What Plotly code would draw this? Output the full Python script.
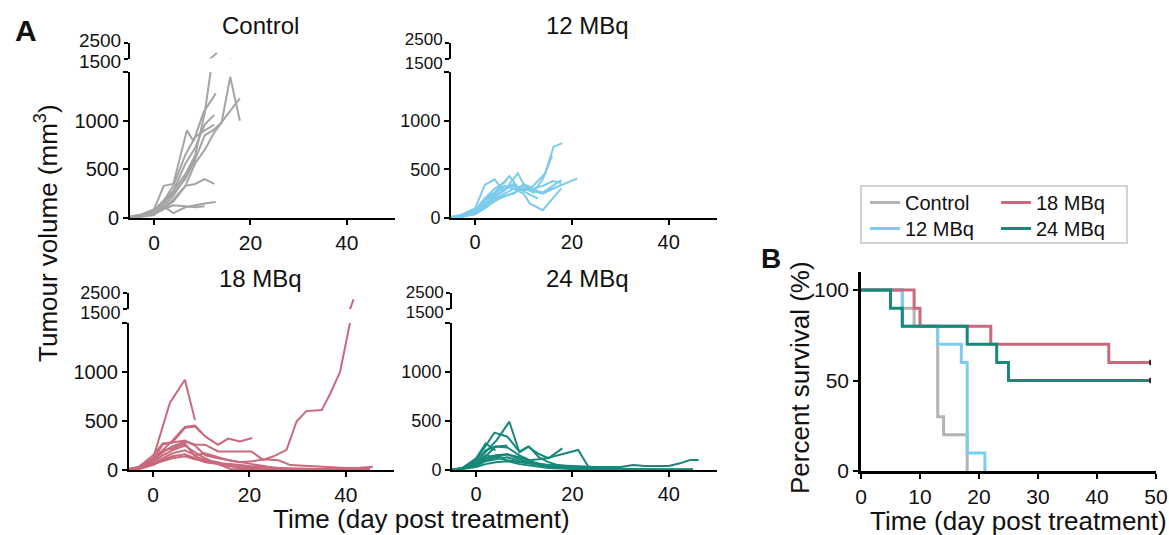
import plotly.graph_objects as go

W, H = 1169, 535
FONT = "Liberation Sans, Arial, sans-serif"

# ---------------- DATA ----------------
# Tumour volume (mm^3) per mouse: days post treatment and volumes
ctrl_days = [
    [-5, -3, 0, 2, 4, 6.5, 8.5, 10.5, 11.75, 13],
    [-5, -3, 0, 2, 4, 6.8, 8.2, 10.3, 12.8],
    [-5, -3, 0, 2, 4, 6.5, 8.5, 10.5, 12.2, 14, 15.8, 17.8],
    [-5, -3, 0, 2, 4, 6.5, 8.5, 10.5, 12.5, 15, 17.8],
    [-5, -3, 0, 2, 4, 6.5, 8.5, 10.5, 12.5],
    [-5, -3, 0, 2, 4, 6.5, 8.5, 10.5, 12.5],
    [-5, -3, 0, 2, 4, 6.5, 8.5, 10.5, 12.5],
    [-5, -3, 0, 2, 4, 6.5, 8.5, 10.5, 12.8],
    [-5, -3, 0, 2, 4, 6.5, 8.5],
    [-5, -3, 0, 2, 4, 6.5, 8.5, 10.5],
]
ctrl_vols = [
    [10, 20, 60, 150, 280, 450, 640, 1075, 1510, 1850],
    [15, 30, 90, 330, 350, 900, 790, 1090, 1280],
    [10, 15, 50, 120, 230, 420, 600, 850, 900, 980, 1450, 1000],
    [10, 20, 40, 100, 170, 330, 560, 700, 880, 1050, 1230],
    [15, 30, 80, 180, 330, 650, 830, 900, 960],
    [10, 25, 70, 170, 280, 560, 720, 960, 1060],
    [10, 20, 50, 100, 190, 330, 350, 400, 350],
    [5, 10, 30, 120, 50, 110, 130, 150, 165],
    [10, 20, 60, 150, 250, 400, 600],
    [10, 20, 40, 90, 130, 120, 110, 120],
]

mbq12_days = [
    [-5, -3, 0, 2, 4, 6, 8, 10, 12, 14.5, 16.2, 18],
    [-5, -3, 0, 2, 4, 6, 8, 10, 12, 14, 15.9],
    [-5, -3, 0, 2, 4, 6, 8, 10, 12, 14, 16, 17.8, 21.1],
    [-5, -3, 0, 2, 4, 6, 8, 10, 11.3, 14, 16, 17.8],
    [-5, -3, 0, 2, 4, 5.7, 8, 10, 12, 14, 16, 17.8],
    [-5, -3, 0, 2, 4, 6, 8.8, 10, 12, 14, 16, 17.8],
    [-5, -3, 0, 2, 4, 7.1, 9, 11, 13],
    [-5, -3, 0, 2, 4, 6.5],
    [-5, -3, 0, 2, 4, 6.5],
    [-5, -3, 0, 2, 4, 6, 8, 10, 12, 14, 16, 17.8],
]
mbq12_vols = [
    [10, 20, 60, 150, 220, 300, 350, 280, 330, 460, 730, 770],
    [5, 15, 50, 120, 200, 250, 300, 330, 260, 400, 640],
    [5, 10, 40, 100, 180, 220, 260, 300, 280, 250, 300, 340, 407],
    [10, 20, 70, 180, 250, 330, 300, 250, 150, 80, 200, 305],
    [10, 30, 100, 340, 397, 290, 330, 300, 270, 260, 330, 390],
    [5, 15, 50, 150, 230, 280, 459, 350, 300, 330, 380, 360],
    [10, 20, 60, 200, 260, 431, 300, 250, 200],
    [5, 10, 40, 120, 220, 300],
    [10, 20, 80, 200, 300, 380],
    [8, 15, 40, 100, 170, 230, 250, 350, 290, 260, 300, 340],
]

mbq18_days = [
    [-5, -3, 0, 3.5, 6.6, 8.7],
    [-5, -3, 0, 2, 4, 6.6, 8.7, 10.8, 13.5, 15.6, 18, 20.6],
    [-5, -3, 0, 2, 4, 6.6, 8.7, 10.8, 13.5, 17, 20.4, 22.8, 25, 27.7, 29.8, 31.8, 35, 36.7, 38.8, 40.9, 41.6],
    [-5, -3, 0, 2, 4, 6.6, 8.7, 10],
    [-5, -3, 0, 2, 4, 6.6, 8.7, 10.8, 13.5, 15.6, 18, 20.6, 23, 25, 28, 31, 35, 40, 45.6],
    [-5, -3, 0, 2, 4, 6.6, 8.7, 10.8, 13.5, 16, 20, 25, 30, 35, 40, 45],
    [-5, -3, 0, 2, 4, 6.6, 8.7, 10.8, 13.5, 15.6, 18, 20.6, 23, 26, 28.5, 32, 36, 40, 45],
    [-5, -3, 0, 2, 4, 6.6, 8.7, 10.8, 13.5, 16, 18, 22, 26, 30, 35, 40, 45],
    [-5, -3, 0, 2, 4, 6.6, 8.7, 10.8, 13.5, 16, 20, 25, 30, 35, 40, 45],
    [-5, -3, 0, 2, 4, 6.6, 8.7, 10.8, 13.5, 16, 20, 24, 28, 32, 36, 40, 45],
]
mbq18_vols = [
    [10, 30, 120, 687, 921, 509],
    [10, 20, 80, 200, 300, 440, 454, 343, 258, 320, 292, 326],
    [10, 20, 100, 180, 240, 290, 260, 258, 189, 189, 190, 103, 140, 206, 498, 601, 611, 773, 1000, 1510, 2106],
    [10, 30, 150, 270, 280, 430, 445, 380],
    [10, 20, 100, 260, 280, 300, 250, 150, 120, 100, 80, 60, 40, 20, 10, 5, 5, 10, 34],
    [5, 15, 80, 150, 200, 250, 180, 120, 60, 10, 5, 5, 5, 5, 5, 5],
    [5, 10, 60, 120, 170, 200, 150, 170, 130, 100, 80, 90, 110, 100, 50, 40, 30, 20, 20],
    [5, 10, 50, 100, 140, 160, 120, 80, 60, 40, 20, 10, 5, 5, 5, 5, 5],
    [10, 20, 120, 200, 220, 270, 140, 100, 80, 40, 30, 20, 15, 10, 5, 5],
    [5, 15, 60, 90, 120, 140, 110, 90, 70, 60, 40, 30, 10, 10, 5, 5, 5],
]

mbq24_days = [
    [-5, -3, 0, 2, 4.2, 6.9, 9, 11, 13, 15, 17, 20, 23, 26, 30, 35, 40, 45],
    [-5, -3, 0, 2, 3.8, 6.5, 9, 10.75, 12.8, 15, 17.9],
    [-5, -3, 0, 2, 4, 6.5, 9, 11, 13, 14.6, 17, 21.2, 23.3],
    [-5, -3, 0, 2, 4, 6.5, 9, 12, 15, 20, 25, 30, 32.6, 35, 40, 42.3, 44.4, 46.2],
    [-5, -3, 0, 2, 4],
    [-5, -3, 0, 2, 4, 6.5],
    [-5, -3, 0, 2, 4, 6.5, 9, 12, 15, 18, 22, 25],
    [-5, -3, 0, 2, 4, 6.5, 9, 12, 15, 20, 25, 30, 35, 40, 45],
    [-5, -3, 0, 2, 4, 6.5, 9, 12, 15, 20, 25, 30, 35, 40, 45],
    [-5, -3, 0, 2, 4, 6.5, 9, 12, 15, 20, 25, 30, 35],
]
mbq24_vols = [
    [5, 15, 80, 180, 300, 493, 180, 240, 130, 80, 50, 30, 20, 10, 5, 5, 5, 5],
    [5, 20, 100, 250, 381, 340, 187, 238, 170, 120, 221],
    [5, 10, 50, 120, 150, 160, 130, 100, 110, 119, 150, 204, 34],
    [5, 10, 60, 150, 130, 100, 80, 60, 50, 40, 30, 30, 50, 40, 40, 68, 102, 102],
    [5, 15, 120, 272, 200],
    [5, 10, 70, 140, 238, 250],
    [5, 10, 80, 200, 240, 230, 150, 80, 40, 20, 10, 5],
    [5, 10, 40, 90, 110, 130, 90, 60, 30, 20, 10, 10, 5, 5, 5],
    [5, 10, 50, 100, 130, 160, 110, 70, 50, 30, 20, 10, 5, 5, 5],
    [5, 10, 30, 60, 80, 90, 60, 40, 20, 10, 5, 5, 5],
]

# Kaplan-Meier survival (%)
surv_ctrl_t = [0, 7, 9, 13, 14, 18]
surv_ctrl_s = [100, 90, 80, 30, 20, 0]
surv_12_t = [0, 7, 13, 17, 18, 21]
surv_12_s = [100, 80, 70, 60, 10, 0]
surv_18_t = [0, 9, 10, 22, 42, 49]
surv_18_s = [100, 90, 80, 70, 60, 60]
surv_24_t = [0, 5, 7, 18, 23, 25, 49]
surv_24_s = [100, 90, 80, 70, 60, 50, 50]
censor_t = [49, 49]
censor_s = [60, 50]

group_names = ["Control", "12 MBq", "18 MBq", "24 MBq"]
vol_ticks = [0, 500, 1000]
vol_break_tick = [1500]
upper_ticks = [1500, 2500]
upper_ticktext = ["1500", "2500"]
day_ticks = [0, 20, 40]
surv_xticks = [0, 10, 20, 30, 40, 50]
surv_yticks = [0, 50, 100]

# ---------------- STYLE ----------------
tumour_colors = ["#a4a4a4", "#7ccbec", "#c9697b", "#16897a"]
surv_colors = ["#b3b3b3", "#7ccdef", "#c9697b", "#16897a"]


def fx(x):
    return x / W


def fy(y):
    return 1 - y / H


# panel geometry in pixels
panels = [
    dict(xd=(130, 395), low=(218, 72), up=(58.5, 42.5), lab=(61.5, 40), tfs=20, ufs=19, xfs=21, title=(260, 25)),
    dict(xd=(451, 717), low=(218, 72), up=(58.5, 42.5), lab=(63, 39.5), tfs=18, ufs=17, xfs=20, title=(587, 25)),
    dict(xd=(129, 394), low=(470, 323), up=(309, 293), lab=(312.5, 292.5), tfs=20, ufs=18, xfs=21, title=(260, 278)),
    dict(xd=(452, 717), low=(470, 323), up=(309, 293), lab=(312.5, 292.5), tfs=18, ufs=17, xfs=20, title=(587, 278)),
]
all_days = [ctrl_days, mbq12_days, mbq18_days, mbq24_days]
all_vols = [ctrl_vols, mbq12_vols, mbq18_vols, mbq24_vols]

fig = go.Figure()
layout = dict(
    width=W, height=H,
    margin=dict(l=0, r=0, t=0, b=0, autoexpand=False),
    paper_bgcolor="white", plot_bgcolor="rgba(0,0,0,0)",
    font=dict(family=FONT, color="#111111"),
    showlegend=True,
)

axis_common = dict(showline=True, linecolor="black", linewidth=2, ticks="outside",
                   ticklen=5, tickwidth=2, tickcolor="black", showgrid=False,
                   zeroline=False, fixedrange=True)

for i, p in enumerate(panels):
    xi = i + 1
    ylo = 3 * i + 1
    yup = 3 * i + 2
    ylab = 3 * i + 3
    xname = "x" if xi == 1 else f"x{xi}"
    ylo_name = "y" if ylo == 1 else f"y{ylo}"
    yup_name = f"y{yup}"
    layout["xaxis" if xi == 1 else f"xaxis{xi}"] = dict(
        axis_common, domain=[fx(p["xd"][0]), fx(p["xd"][1])], range=[-5, 50],
        anchor=ylo_name, tickvals=day_ticks, tickfont=dict(size=p["xfs"]))
    layout["yaxis" if ylo == 1 else f"yaxis{ylo}"] = dict(
        axis_common, domain=[fy(p["low"][0]), fy(p["low"][1])], range=[0, 1500],
        anchor=xname, tickvals=vol_ticks, tickfont=dict(size=p["tfs"]),
        minor=dict(tickmode="array", tickvals=vol_break_tick, ticks="outside",
                   ticklen=5, tickwidth=2, tickcolor="black", showgrid=False))
    layout[f"yaxis{yup}"] = dict(
        axis_common, domain=[fy(p["up"][0]), fy(p["up"][1])], range=[1500, 2500],
        anchor=xname, tickvals=upper_ticks, showticklabels=False, ticklen=4)
    # label-only axis for the broken segment (labels sit slightly apart from the ticks)
    layout[f"yaxis{ylab}"] = dict(
        domain=[fy(p["lab"][0]), fy(p["lab"][1])], range=[1500, 2500], anchor=xname,
        tickvals=upper_ticks, ticktext=upper_ticktext, showline=False,
        ticks="outside", ticklen=4, tickcolor="rgba(0,0,0,0)", showgrid=False,
        zeroline=False, fixedrange=True, tickfont=dict(size=p["ufs"]))
    # invisible trace so the label axis is instantiated (drawn first, below data)
    fig.add_trace(go.Scatter(x=[None], y=[None], xaxis=xname, yaxis=f"y{ylab}",
                             mode="lines", showlegend=False, hoverinfo="skip"))
    for d, v in zip(all_days[i], all_vols[i]):
        for yn in (ylo_name, yup_name):
            fig.add_trace(go.Scatter(
                x=d, y=v, xaxis=xname, yaxis=yn, mode="lines",
                line=dict(color=tumour_colors[i], width=2),
                showlegend=False, hoverinfo="skip"))

# survival panel
layout["xaxis5"] = dict(axis_common, domain=[fx(861), fx(1156)], range=[0, 50],
                        anchor="y13", tickvals=surv_xticks, tickfont=dict(size=21),
                        linewidth=2.5)
layout["yaxis13"] = dict(axis_common, domain=[fy(471), fy(272)], range=[0, 110],
                         anchor="x5", tickvals=surv_yticks, tickfont=dict(size=21),
                         linewidth=2.5)

surv_t = [surv_ctrl_t, surv_12_t, surv_18_t, surv_24_t]
surv_s = [surv_ctrl_s, surv_12_s, surv_18_s, surv_24_s]
legend_ids = ["legend", "legend2", "legend3", "legend4"]
legend_pos = [(865, 183), (865, 209), (996, 183), (996, 209)]
for i in range(4):
    fig.add_trace(go.Scatter(
        x=surv_t[i], y=surv_s[i], xaxis="x5", yaxis="y13", mode="lines",
        line=dict(color=surv_colors[i], width=3, shape="hv"),
        name=group_names[i], legend=legend_ids[i], hoverinfo="skip"))
fig.add_trace(go.Scatter(
    x=censor_t, y=censor_s, xaxis="x5", yaxis="y13", mode="markers",
    marker=dict(symbol="line-ns", size=4, line=dict(color="black", width=1.5)),
    showlegend=False, hoverinfo="skip"))

leg_common = dict(yanchor="top", xanchor="left", orientation="v", borderwidth=0,
                  bgcolor="rgba(0,0,0,0)", font=dict(size=20, family=FONT),
                  tracegroupgap=0, itemwidth=30)
for lid, (lx, ly) in zip(legend_ids, legend_pos):
    layout[lid] = dict(leg_common, x=fx(lx), y=fy(ly))
layout["shapes"] = [dict(type="rect", xref="paper", yref="paper",
                         x0=fx(861), x1=fx(1127), y0=fy(243), y1=fy(186),
                         line=dict(color="#c4c4c4", width=1.5), layer="below")]


def ann(text, x, y, size, angle=0, bold=False):
    return dict(text=f"<b>{text}</b>" if bold else text, x=fx(x), y=fy(y),
                xref="paper", yref="paper", showarrow=False, xanchor="center",
                yanchor="middle", textangle=angle,
                font=dict(size=size, family=FONT, color="#111111"))


annotations = [
    ann("A", 26, 30, 30, bold=True),
    ann("B", 771, 258, 28, bold=True),
    ann("Tumour volume (mm<sup>3</sup>)", 46, 233, 26, angle=-90),
    ann("Time (day post treatment)", 421, 519, 26),
    ann("Percent survival (%)", 800, 378, 26, angle=-90),
    ann("Time (day post treatment)", 1018, 521, 26),
]
for i, p in enumerate(panels):
    annotations.append(ann(group_names[i], p["title"][0], p["title"][1], 24))
layout["annotations"] = annotations

fig.update_layout(**layout)
fig.write_html("out.html", config={"displayModeBar": False},
               post_script="document.body.style.margin='0';")
